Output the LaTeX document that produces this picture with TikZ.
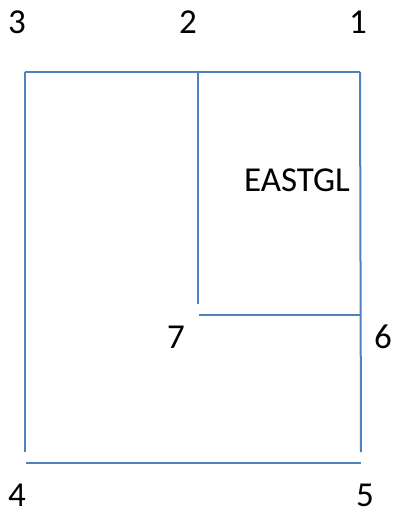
\documentclass[tikz,border=0pt]{standalone}
\usepackage{fontspec}
\setmainfont{Carlito}
\definecolor{lineblue}{RGB}{79,129,189}
\begin{document}
\begin{tikzpicture}[x=1pt,y=-1pt,
  wall/.style={draw=lineblue,line width=2pt},
  lbl/.style={font=\fontsize{35}{35}\selectfont,inner sep=0pt,anchor=center}]
\useasboundingbox (0,0) rectangle (395,512);
\coordinate (p3) at (25,72);
\coordinate (p2) at (198,72);
\coordinate (p1) at (360,72);
\coordinate (l4) at (25,452);
\coordinate (r5) at (361,452);
\coordinate (m7) at (198,304);
\coordinate (h7) at (199,315);
\coordinate (h6) at (360,315);
\coordinate (b4) at (26,463);
\coordinate (b5) at (361,463);
\draw[wall] (p3) -- (p1);
\draw[wall] (p3) -- (l4);
\draw[wall] (p2) -- (m7);
\draw[wall] (p1) -- (r5);
\draw[wall] (h7) -- (h6);
\draw[wall] (b4) -- (b5);
\node[lbl] (n3) at (17,22) {3};
\node[lbl] (n2) at (188,22) {2};
\node[lbl] (n1) at (358,22) {1};
\node[lbl] (n7) at (176,337) {7};
\node[lbl] (n6) at (383,337) {6};
\node[lbl] (n4) at (17,495) {4};
\node[lbl] (n5) at (365,495) {5};
\node[lbl] (eg) at (297,180) {EASTGL};
\end{tikzpicture}
\end{document}
